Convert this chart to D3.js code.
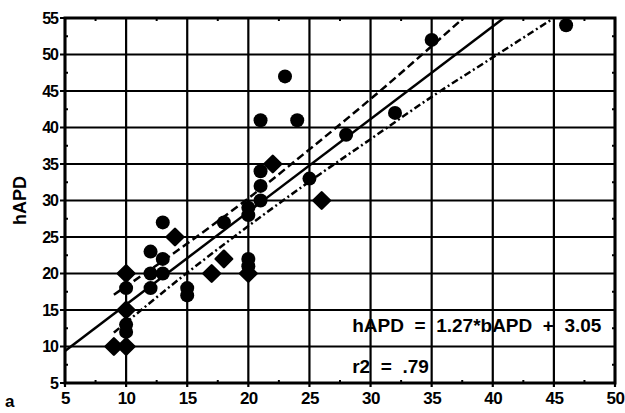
<!DOCTYPE html>
<meta charset="utf-8" />
<style>
  body {
    margin: 0;
    background: #fff;
    font-family: "Liberation Sans", Arial, sans-serif;
  }
  text {
    font-weight: bold;
    fill: #000;
  }
</style>
<div id="container"></div>
<script src="https://d3js.org/d3.v7.min.js"></script>
<script>
  // DATA
  // bAPD (x) and hAPD (y) of each patient, split by the marker drawn
  const circleX = [10, 10, 10, 12, 12, 12, 13, 13, 13, 15, 15, 18, 20, 20, 20, 20, 21, 21, 21, 21, 24, 23, 25, 28, 32, 35, 46];
  const circleY = [12, 13, 18, 18, 20, 23, 22, 20, 27, 17, 18, 27, 21, 22, 28, 29, 30, 32, 34, 41, 41, 47, 33, 39, 42, 52, 54];
  const diamondX = [9, 10, 10, 10, 14, 17, 18, 20, 22, 26];
  const diamondY = [10, 10, 15, 20, 25, 20, 22, 20, 35, 30];

  // regression printed on the chart
  const slope = 1.27;
  const intercept = 3.05;

  // 95% band, read at a few x positions
  const upperX = [9, 15, 20, 25, 30, 37.6];
  const upperY = [17.1, 24.1, 30.3, 37.0, 43.9, 55];
  const lowerX = [9, 15, 20, 25, 30, 35, 40, 45];
  const lowerY = [11.9, 20.1, 26.5, 32.6, 38.4, 44.2, 49.6, 55];

  const xTicks = [5, 10, 15, 20, 25, 30, 35, 40, 45, 50];
  const yTicks = [5, 10, 15, 20, 25, 30, 35, 40, 45, 50, 55];

  // CONTAINER
  const W = 625,
    H = 413;
  const margin = { top: 18, right: 10, bottom: 30, left: 65 };
  const width = W - margin.left - margin.right;
  const height = H - margin.top - margin.bottom;

  const svg = d3
    .select("#container")
    .append("svg")
    .attr("width", W)
    .attr("height", H);

  const g = svg
    .append("g")
    .attr("transform", "translate(" + margin.left + "," + margin.top + ")");

  const x = d3.scaleLinear().domain([5, 50]).range([0, width]);
  const y = d3.scaleLinear().domain([5, 55]).range([height, 0]);

  // GRID
  g.selectAll(".vgrid")
    .data(xTicks)
    .enter()
    .append("line")
    .attr("x1", (d) => x(d))
    .attr("x2", (d) => x(d))
    .attr("y1", 0)
    .attr("y2", height + 4)
    .attr("stroke", "#000")
    .attr("stroke-width", 2.2);

  g.selectAll(".hgrid")
    .data(yTicks)
    .enter()
    .append("line")
    .attr("x1", -5)
    .attr("x2", width)
    .attr("y1", (d) => y(d))
    .attr("y2", (d) => y(d))
    .attr("stroke", "#000")
    .attr("stroke-width", 2.2);

  // little minor ticks half way between the grid lines
  const minorX = d3.range(7.5, 50, 5);
  const minorY = d3.range(7.5, 55, 5);
  minorX.forEach((v) => {
    g.append("line")
      .attr("x1", x(v)).attr("x2", x(v))
      .attr("y1", height).attr("y2", height - 3)
      .attr("stroke", "#000").attr("stroke-width", 2);
    g.append("line")
      .attr("x1", x(v)).attr("x2", x(v))
      .attr("y1", 0).attr("y2", 3)
      .attr("stroke", "#000").attr("stroke-width", 2);
  });
  minorY.forEach((v) => {
    g.append("line")
      .attr("x1", 0).attr("x2", 3)
      .attr("y1", y(v)).attr("y2", y(v))
      .attr("stroke", "#000").attr("stroke-width", 2);
    g.append("line")
      .attr("x1", width).attr("x2", width - 3)
      .attr("y1", y(v)).attr("y2", y(v))
      .attr("stroke", "#000").attr("stroke-width", 2);
  });

  // frame
  g.append("rect")
    .attr("width", width)
    .attr("height", height)
    .attr("fill", "none")
    .attr("stroke", "#000")
    .attr("stroke-width", 3);

  // AXES LABELS
  const xAxis = g
    .append("g")
    .attr("transform", "translate(0," + height + ")")
    .call(d3.axisBottom(x).tickValues(xTicks).tickSize(0).tickPadding(9));
  xAxis.select(".domain").remove();
  xAxis
    .selectAll("text")
    .style("font-size", "17px")
    .style("font-weight", "bold")
    .attr("letter-spacing", "-0.5")
    .attr("font-family", "Liberation Sans, Arial, sans-serif");

  const yAxis = g
    .append("g")
    .call(d3.axisLeft(y).tickValues(yTicks).tickSize(0).tickPadding(7));
  yAxis.select(".domain").remove();
  yAxis
    .selectAll("text")
    .style("font-size", "16px")
    .style("font-weight", "bold")
    .attr("letter-spacing", "-1")
    .attr("font-family", "Liberation Sans, Arial, sans-serif");

  svg
    .append("text")
    .attr("transform", "translate(26," + (margin.top + y(30)) + ") rotate(-90)")
    .attr("text-anchor", "middle")
    .style("font-size", "18px")
    .text("hAPD");

  svg
    .append("text")
    .attr("x", 5)
    .attr("y", 407)
    .style("font-size", "17px")
    .text("a");

  // LINES
  const line = d3
    .line()
    .x((d) => x(d[0]))
    .y((d) => y(d[1]))
    .curve(d3.curveMonotoneX);

  const xEnd = (55 - intercept) / slope;
  const fit = [5, xEnd].map((v) => [v, slope * v + intercept]);

  g.append("path")
    .attr("d", line(fit))
    .attr("fill", "none")
    .attr("stroke", "#000")
    .attr("stroke-width", 2.5);

  g.append("path")
    .attr("d", line(upperX.map((v, i) => [v, upperY[i]])))
    .attr("fill", "none")
    .attr("stroke", "#000")
    .attr("stroke-width", 2.5)
    .attr("stroke-dasharray", "8,4");

  g.append("path")
    .attr("d", line(lowerX.map((v, i) => [v, lowerY[i]])))
    .attr("fill", "none")
    .attr("stroke", "#000")
    .attr("stroke-width", 2.5)
    .attr("stroke-dasharray", "7,3,2,3");

  // POINTS
  g.selectAll(".dot")
    .data(circleX.map((v, i) => [v, circleY[i]]))
    .enter()
    .append("circle")
    .attr("cx", (d) => x(d[0]))
    .attr("cy", (d) => y(d[1]))
    .attr("r", 7)
    .attr("fill", "#000");

  // diamonds in the scan look like fat rounded octagons
  const diamond = d3.symbol().type(d3.symbolDiamond2).size(170);
  g.selectAll(".dia")
    .data(diamondX.map((v, i) => [v, diamondY[i]]))
    .enter()
    .append("path")
    .attr("d", diamond)
    .attr("transform", (d) => "translate(" + x(d[0]) + "," + y(d[1]) + ")")
    .attr("fill", "#000")
    .attr("stroke", "#000")
    .attr("stroke-width", 2.5)
    .attr("stroke-linejoin", "round");

  // EQUATION
  g.append("text")
    .attr("x", x(28.5))
    .attr("y", y(12))
    .style("font-size", "19px")
    .style("white-space", "pre")
    .text("hAPD  =  1.27*bAPD  +  3.05");

  g.append("text")
    .attr("x", x(28.5))
    .attr("y", y(6.4))
    .style("font-size", "19px")
    .style("white-space", "pre")
    .text("r2  =  .79");
</script>
